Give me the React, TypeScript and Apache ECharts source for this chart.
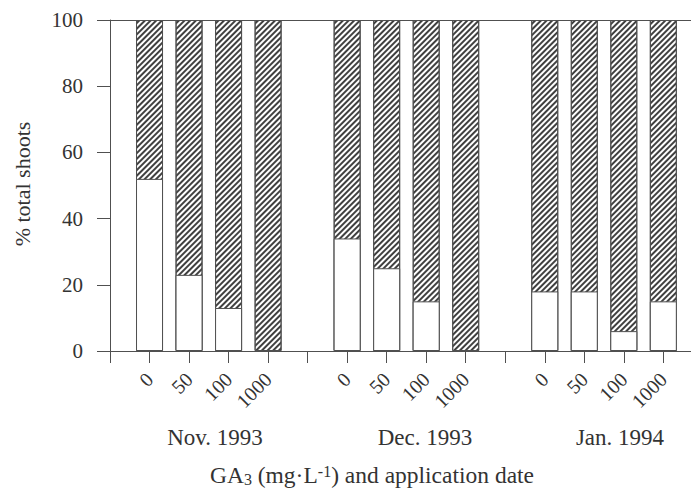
import React, { useEffect, useRef } from 'react';
import * as echarts from 'echarts';

// ---- data ----
const doses = ['0', '50', '100', '1000'];
const dates = ['Nov. 1993', 'Dec. 1993', 'Jan. 1994'];
// white (lower) part of each bar, % total shoots; the hatched part is the rest up to 100 %
const novWhite = [52, 23, 13, 0];
const decWhite = [34, 25, 15, 0];
const janWhite = [18, 18, 6, 15];
const yTicks = [0, 20, 40, 60, 80, 100];

const groups = [novWhite, decWhite, janWhite];
const slot = doses.length + 1;
const total = yTicks[yTicks.length - 1];

const whiteData: number[][] = [];
const hatchData: number[][] = [];
const labelByPos: Record<number, string> = {};
groups.forEach((vals, g) => {
  vals.forEach((v, i) => {
    const x = g * slot + i + 1;
    whiteData.push([x, v]);
    // hatched part spans from the white part up to 100 %: drawn as a full bar behind the white one
    hatchData.push([x, total]);
    labelByPos[x] = doses[i];
  });
});
const tickPositions: number[] = [];
for (let p = 0; p < groups.length * slot; p++) tickPositions.push(p);

const FONT = '"Liberation Serif", "Times New Roman", serif';
const TEXT = '#333';
const LINE = '#505050';

const groupLabelX = [215, 425, 620];

export default function App() {
  const ref = useRef<HTMLDivElement>(null);
  useEffect(() => {
    const chart = echarts.init(ref.current!, null, { renderer: 'svg' });
    const xMax = 14.7;
    chart.setOption({
      animation: false,
      backgroundColor: '#fff',
      grid: { left: 110, right: 0, top: 20, bottom: 138 },
      xAxis: [
        {
          type: 'value',
          min: 0,
          max: xMax,
          interval: 1,
          axisLine: { show: true, onZero: false, lineStyle: { color: LINE, width: 1 } },
          axisTick: { show: true, length: 12, customValues: tickPositions, lineStyle: { color: LINE } },
          axisLabel: {
            show: true,
            rotate: 45,
            margin: 25,
            fontSize: 20,
            fontFamily: FONT,
            color: TEXT,
            customValues: tickPositions,
            formatter: (v: number) => labelByPos[Math.round(v)] ?? '',
          },
          splitLine: { show: false },
        },
        {
          type: 'value',
          position: 'top',
          min: 0,
          max: xMax,
          axisLine: { show: true, onZero: false, lineStyle: { color: LINE, width: 1 } },
          axisTick: { show: false },
          axisLabel: { show: false },
          splitLine: { show: false },
        },
      ],
      yAxis: {
        type: 'value',
        min: yTicks[0],
        max: total,
        interval: yTicks[1] - yTicks[0],
        axisLine: { show: true, lineStyle: { color: LINE, width: 1 } },
        axisTick: { show: true, length: 13, lineStyle: { color: LINE } },
        axisLabel: { margin: 27, fontSize: 21, fontFamily: FONT, color: TEXT },
        splitLine: { show: false },
      },
      series: [
        {
          type: 'bar',
          barWidth: 27,
          barGap: '-100%',
          data: hatchData,
          itemStyle: {
            color: '#fff',
            borderColor: LINE,
            borderWidth: 1,
            decal: {
              symbol: 'rect',
              symbolSize: 1,
              dashArrayX: [1, 0],
              dashArrayY: [1.4, 1.6],
              rotation: -Math.PI / 4,
              color: '#404040',
              backgroundColor: '#fff',
            },
          },
        },
        {
          type: 'bar',
          barWidth: 27,
          barGap: '-100%',
          data: whiteData.filter((d) => d[1] > 0),
          itemStyle: { color: '#fff', borderColor: LINE, borderWidth: 1 },
        },
      ],
      graphic: [
        {
          type: 'text',
          x: 22,
          y: 184,
          rotation: Math.PI / 2,
          style: {
            text: '% total shoots',
            font: `22px ${FONT}`,
            fill: TEXT,
            align: 'center',
            verticalAlign: 'middle',
          },
        },
        ...dates.map((d, i) => ({
          type: 'text',
          x: groupLabelX[i],
          y: 437,
          style: {
            text: d,
            font: `23px ${FONT}`,
            fill: TEXT,
            align: 'center',
            verticalAlign: 'middle',
          },
        })),
        {
          type: 'text',
          x: 372,
          y: 475,
          style: {
            text: '{n|GA}{sub|3}{n| (mg·L}{sup|-1}{n|) and application date}',
            fill: TEXT,
            align: 'center',
            verticalAlign: 'middle',
            rich: {
              n: { fontSize: 23.5, fontFamily: FONT, color: TEXT, lineHeight: 24 },
              sub: { fontSize: 16, fontFamily: FONT, color: TEXT, lineHeight: 14, verticalAlign: 'bottom' },
              sup: { fontSize: 16, fontFamily: FONT, color: TEXT, lineHeight: 14, verticalAlign: 'top' },
            },
          },
        },
      ],
    });
    return () => chart.dispose();
  }, []);
  return (
    <div
      ref={ref}
      style={{ position: 'absolute', left: 0, top: 0, width: 691, height: 489, background: '#fff' }}
    />
  );
}
